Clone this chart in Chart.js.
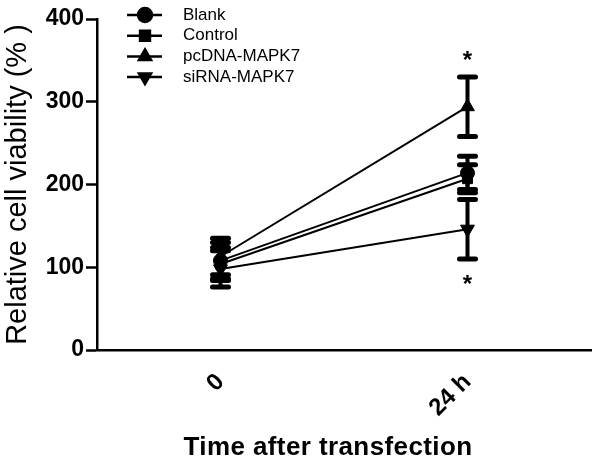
<!DOCTYPE html>
<html>
<head>
<meta charset="utf-8">
<script src="https://cdn.jsdelivr.net/npm/chart.js@4"></script>
<style>
  html, body { margin: 0; padding: 0; background: #fff; }
  #wrap { width: 600px; height: 462px; position: relative; }
</style>
</head>
<body>
<div id="wrap"><canvas id="myChart" width="600" height="462"></canvas></div>
<script>
// data
const timePoints = ['0', '24 h'];
const groupNames = ['Blank', 'Control', 'pcDNA-MAPK7', 'siRNA-MAPK7'];
const blankMean = [108, 214];
const blankSd = [22, 20];
const controlMean = [104, 207];
const controlSd = [20, 17];
const pcdnaMean = [113, 294];
const pcdnaSd = [22, 36];
const sirnaMean = [98, 146];
const sirnaSd = [22, 36];
const yTicks = [0, 100, 200, 300, 400];
// significance marks: [dataset index, category index, above(1)/below(-1)]
const starMarks = [[2, 1, 1], [3, 1, -1]];

const means = [blankMean, controlMean, pcdnaMean, sirnaMean];
const sds = [blankSd, controlSd, pcdnaSd, sirnaSd];
const shapes = ['circle', 'rect', 'triangle', 'triangle'];
const rotations = [0, 0, 0, 180];
const sizes = [7, 7, 8, 8];
const FONT = '"Liberation Sans", Arial, sans-serif';

const errorBars = {
  id: 'errorBars',
  afterDatasetsDraw(chart) {
    const ctx = chart.ctx;
    const y = chart.scales.y;
    ctx.save();
    ctx.strokeStyle = '#000';
    ctx.lineCap = 'round';
    chart.data.datasets.forEach((ds, i) => {
      const meta = chart.getDatasetMeta(i);
      meta.data.forEach((pt, j) => {
        const hi = y.getPixelForValue(means[i][j] + sds[i][j]);
        const lo = y.getPixelForValue(means[i][j] - sds[i][j]);
        ctx.lineWidth = 4;
        ctx.beginPath();
        ctx.moveTo(pt.x, hi); ctx.lineTo(pt.x, lo);
        ctx.stroke();
        ctx.lineWidth = 5;
        ctx.beginPath();
        ctx.moveTo(pt.x - 8, hi); ctx.lineTo(pt.x + 8, hi);
        ctx.moveTo(pt.x - 8, lo); ctx.lineTo(pt.x + 8, lo);
        ctx.stroke();
      });
    });
    // stars
    ctx.fillStyle = '#000';
    ctx.font = 'bold 24px ' + FONT;
    ctx.textAlign = 'center';
    ctx.textBaseline = 'middle';
    starMarks.forEach(([i, j, dir]) => {
      const pt = chart.getDatasetMeta(i).data[j];
      const edge = y.getPixelForValue(means[i][j] + dir * sds[i][j]);
      ctx.fillText('*', pt.x, edge - dir * 21 + 5);
    });
    ctx.restore();
  }
};

const extras = {
  id: 'extras',
  afterDraw(chart) {
    const ctx = chart.ctx;
    ctx.save();
    // legend
    ctx.font = '17px ' + FONT;
    ctx.textBaseline = 'middle';
    ctx.textAlign = 'left';
    groupNames.forEach((name, i) => {
      const cy = 15 + i * 20.7;
      ctx.strokeStyle = '#000';
      ctx.fillStyle = '#000';
      ctx.lineWidth = 2.5;
      ctx.beginPath();
      ctx.moveTo(127, cy); ctx.lineTo(162, cy);
      ctx.stroke();
      Chart.helpers.drawPoint(ctx, {
        pointStyle: shapes[i], radius: 7, rotation: rotations[i], borderWidth: 1
      }, 145, cy);
      ctx.fillStyle = '#000';
      ctx.fillText(name, 183, cy);
    });
    // x axis title
    ctx.font = 'bold 26px ' + FONT;
    ctx.textAlign = 'center';
    ctx.textBaseline = 'alphabetic';
    ctx.letterSpacing = '0.4px';
    ctx.fillText('Time after transfection', 328, 455);
    ctx.restore();
  }
};

new Chart(document.getElementById('myChart').getContext('2d'), {
  type: 'line',
  data: {
    labels: timePoints,
    datasets: groupNames.map((name, i) => ({
      label: name,
      data: means[i],
      borderColor: '#000',
      backgroundColor: '#000',
      borderWidth: 2,
      pointStyle: shapes[i],
      pointRotation: rotations[i],
      pointRadius: sizes[i],
      pointBorderWidth: 1,
      tension: 0
    }))
  },
  options: {
    responsive: false,
    animation: false,
    layout: { padding: { top: 19, right: 5, left: 0, bottom: 0 } },
    plugins: { legend: { display: false }, tooltip: { enabled: false } },
    scales: {
      x: {
        offset: true,
        grid: { display: false, drawOnChartArea: false, tickLength: 9, tickWidth: 2.5, tickColor: '#000' },
        border: { color: '#000', width: 2.5 },
        ticks: {
          color: '#000', minRotation: 45, maxRotation: 45, padding: 9,
          font: { family: FONT, size: 24, weight: 'bold' }
        },
        afterFit(axis) {
          axis.height = 112;
          axis.paddingLeft = 0;
          axis.paddingRight = 0;
        }
      },
      y: {
        min: 0, max: 400,
        afterBuildTicks(axis) { axis.ticks = yTicks.map(v => ({ value: v })); },
        grid: { drawOnChartArea: false, tickLength: 11, tickWidth: 2.5, tickColor: '#000' },
        border: { color: '#000', width: 2.5 },
        ticks: {
          color: '#000', padding: 2,
          font: { family: FONT, size: 23, weight: 'bold' }
        },
        title: {
          display: true, text: 'Relative cell viability (% )', color: '#000',
          font: { family: FONT, size: 29 },
          padding: { top: 1, bottom: 0 }
        },
        afterFit(axis) { axis.width = 97; }
      }
    }
  },
  plugins: [errorBars, extras]
});
</script>
</body>
</html>
